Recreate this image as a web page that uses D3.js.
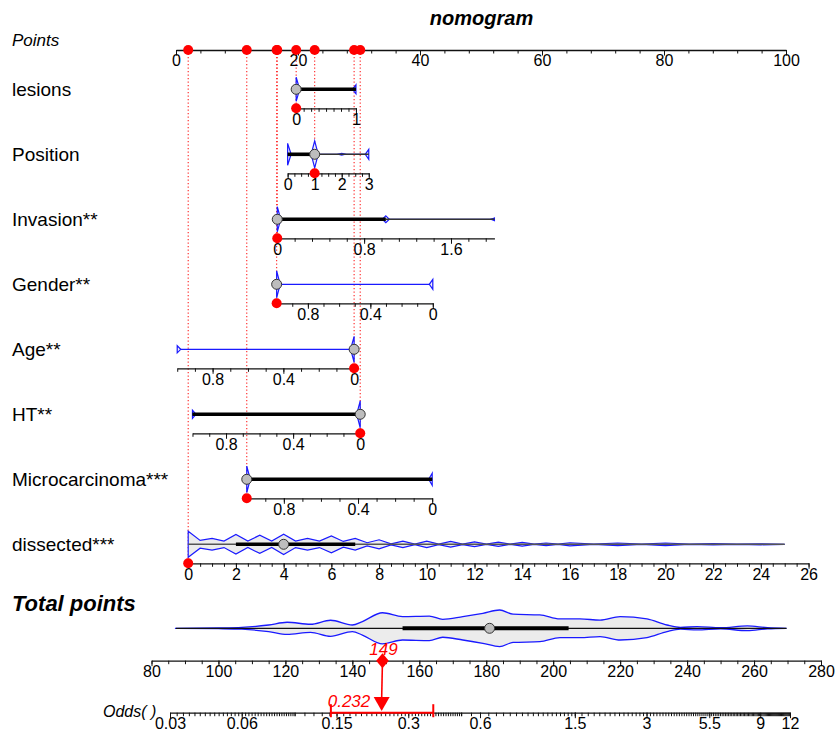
<!DOCTYPE html>
<html>
<head>
<meta charset="utf-8">
<script src="https://cdn.jsdelivr.net/npm/d3@7"></script>
<style>
  body { margin: 0; background: #fff; }
  svg { display: block; font-family: "Liberation Sans", Arial, sans-serif; }
</style>
</head>
<body>
<svg id="chart"></svg>
<script>
// ---- data ----
const varNames = ["lesions", "Position", "Invasion**", "Gender**", "Age**", "HT**", "Microcarcinoma***", "dissected***"];
const varDomains = [[0, 1], [0, 3], [0, 2], [1, 0], [1, 0], [1, 0], [1, 0], [0, 26]];
// points given at each end of the domain
const varPoints = [[19.7, 29.5], [18.3, 31.6], [16.6, 52.2], [16.5, 42.1], [0.2, 29.2], [2.7, 30.2], [11.6, 42.0], [2.0, 103.7]];
const varTickLabels = [
  [0, 1], [0, 1, 2, 3], [0, 0.8, 1.6], [0.8, 0.4, 0], [0.8, 0.4, 0], [0.8, 0.4, 0], [0.8, 0.4, 0],
  [0, 2, 4, 6, 8, 10, 12, 14, 16, 18, 20, 22, 24, 26]
];
const varTickSteps = [0.125, 0.25, 0.16, 0.1, 0.1, 0.1, 0.1, 0.5];
const varMedians = [0, 1, 0, 1, 0, 0, 1, 4];
const varBoxes = [[0, 1], [0, 1], [0, 1], null, null, [1, 0], [1, 0], [2, 7]];
const varWhiskers = [[0, 1], [1, 3], [1, 2], null, null, [1, 0], [1, 0], [0, 25]];
// relative frequency of each level (categorical rows)
const varLevels = [
  [[0, 0.89], [1, 0.33]],
  [[0, 0.81], [1, 1.0], [2, 0.07], [3, 0.37]],
  [[0, 0.93], [1, 0.25], [2, 0.1]],
  [[1, 1.0], [0, 0.37]],
  [[0, 0.96], [1, 0.26]],
  [[0, 1.0], [1, 0.3]],
  [[1, 0.98], [0, 0.45]],
  null
];
const patientValues = [0, 1, 0, 1, 0, 0, 1, 0];

const dissectedDensity = [
  [0, 1.0], [0.5, 0.3], [1, 0.45], [1.5, 0.25], [2, 0.75], [2.5, 0.25], [3, 0.7], [3.5, 0.25],
  [4, 0.78], [4.5, 0.25], [5, 0.45], [5.5, 0.25], [6, 0.65], [6.5, 0.22], [7, 0.45], [7.5, 0.12],
  [8, 0.35], [8.5, 0.04], [9, 0.25], [9.5, 0.02], [10, 0.25], [10.5, 0.02], [11, 0.22], [11.5, 0.02],
  [12, 0.18], [12.5, 0.01], [13, 0.16], [13.5, 0.01], [14, 0.14], [14.5, 0.01], [15, 0.1], [15.5, 0.01],
  [16, 0.12], [17, 0.01], [18, 0.1], [19, 0.01], [20, 0.1], [21, 0.01], [22, 0.05], [23, 0.01],
  [24, 0.04], [25, 0]
];

const totalDensity = [
  [87, 0], [100, 0.02], [107, 0.05], [115, 0.18], [120.5, 0.33], [127.5, 0.22], [133.5, 0.44],
  [140, 0.18], [143, 0.37], [149, 0.85], [155, 0.64], [163, 0.67], [167, 0.49], [173, 0.64],
  [179, 0.82], [184, 1.0], [188, 0.77], [196, 0.73], [202, 0.51], [208, 0.51], [214, 0.45],
  [220, 0.64], [228, 0.51], [234, 0.18], [238, 0.05], [243, 0.09], [250, 0.03], [258, 0.13],
  [264, 0.03], [269.7, 0]
];
const totalRange = [87.3, 269.7];
const totalBox = [155, 204.6];
const totalMedian = 181;
const totalPoints = 149;

const pointsTickLabels = [0, 20, 40, 60, 80, 100];
const totalTickLabels = [80, 100, 120, 140, 160, 180, 200, 220, 240, 260, 280];
const oddsTickLabels = [0.03, 0.06, 0.15, 0.3, 0.6, 1.5, 3, 5.5, 9, 12];
const oddsMinorSegments = [[0.03, 0.1, 0.002], [0.1, 0.5, 0.01], [0.5, 1.5, 0.05], [1.5, 12, 0.1]];
const predictedOdds = 0.232;
const oddsCI = [0.142, 0.382];

// ---- layout ----
const width = 837, height = 733;
const font = "'Liberation Sans', Arial, sans-serif";
const svg = d3.select("#chart").attr("width", width).attr("height", height);

const xPts = d3.scaleLinear().domain([0, 100]).range([176, 786]);
const yRow = d3.scalePoint().domain(varNames).range([89.3, 544.3]);
const axisGap = 19;
const pointsY = 50;
const xTot = d3.scaleLinear().domain([80, 280]).range([151.5, 821]);
const totalY = 628.3, totalAxisY = 660.7;
const xOdds = d3.scaleLog().domain([0.03, 12]).range([170, 790]);
const oddsY = 712.7;

const levelH = d3.scaleLinear().domain([0, 1]).range([0, 13.5]);
const dissH = d3.scaleLinear().domain([0, 1]).range([0, 13]);
const totH = d3.scaleLinear().domain([0, 1]).range([0, 18.3]);

const varScales = varDomains.map((dom, i) =>
  d3.scaleLinear().domain(dom).range(varPoints[i].map(xPts)));

function drawAxis(g, scale, y, minor, labels) {
  g.append("g")
    .attr("transform", `translate(0,${y})`)
    .call(d3.axisBottom(scale).tickValues(minor).tickSize(3.5).tickSizeOuter(0).tickFormat(""))
    .attr("color", "#111")
    .call(a => a.select(".domain").attr("stroke-width", 1.3));
  const major = g.append("g")
    .attr("transform", `translate(0,${y})`)
    .call(d3.axisBottom(scale).tickValues(labels).tickSize(5.5).tickSizeOuter(0).tickFormat(d => String(d)))
    .attr("color", "#111")
    .attr("font-size", 16)
    .attr("font-family", font);
  major.select(".domain").remove();
  major.selectAll("text").attr("y", 5).attr("dy", "0.71em").attr("fill", "#000");
}

// title and Points label
svg.append("text").attr("x", 481.5).attr("y", 25).attr("text-anchor", "middle")
  .attr("font-size", 20).attr("font-weight", "bold").attr("font-style", "italic").text("nomogram");
svg.append("text").attr("x", 12).attr("y", 46).attr("font-size", 17).attr("font-style", "italic").text("Points");

// dotted guide lines (behind everything)
const guides = svg.append("g");
varNames.forEach((name, i) => {
  const x = varScales[i](patientValues[i]);
  guides.append("line")
    .attr("x1", x).attr("x2", x)
    .attr("y1", pointsY).attr("y2", yRow(name) + axisGap)
    .attr("stroke", "#ff2020").attr("stroke-width", 1.1).attr("stroke-dasharray", "1.2,2.3");
});

// points axis
drawAxis(svg.append("g"), xPts, pointsY, d3.range(0, 100.01, 4), pointsTickLabels);

// rows
varNames.forEach((name, i) => {
  const g = svg.append("g");
  const y = yRow(name);
  const sx = varScales[i];
  const [r0, r1] = d3.extent(sx.range());

  g.append("text").attr("x", 12).attr("y", y + 7).attr("font-size", 19).text(name);

  if (varLevels[i]) {
    // collapsed violin outline
    g.append("line").attr("x1", r0).attr("x2", r1).attr("y1", y).attr("y2", y)
      .attr("stroke", "#1a1aff").attr("stroke-width", 1.3);
    const w = 3.5;
    g.selectAll(".lvl").data(varLevels[i]).join("path")
      .attr("d", d => {
        const x = sx(d[0]), h = levelH(d[1]);
        if (Math.abs(x - r0) < 0.5) return `M${x},${y - h}L${x + w},${y}L${x},${y + h}Z`;
        if (Math.abs(x - r1) < 0.5) return `M${x},${y - h}L${x - w},${y}L${x},${y + h}Z`;
        return `M${x},${y - h}L${x + w},${y}L${x},${y + h}L${x - w},${y}Z`;
      })
      .attr("fill", "#f2f2f2").attr("stroke", "#1a1aff").attr("stroke-width", 1.2);
  } else {
    const area = d3.area()
      .x(d => sx(d[0]))
      .y0(d => y + dissH(d[1]))
      .y1(d => y - dissH(d[1]));
    g.append("path").datum(dissectedDensity).attr("d", area)
      .attr("fill", "#ececec").attr("stroke", "#1a1aff").attr("stroke-width", 1.2);
  }

  if (varWhiskers[i]) {
    g.append("line").attr("x1", sx(varWhiskers[i][0])).attr("x2", sx(varWhiskers[i][1]))
      .attr("y1", y).attr("y2", y)
      .attr("stroke", i === 7 ? "#555" : "#333").attr("stroke-width", 1.4);
  }
  if (varBoxes[i]) {
    g.append("line").attr("x1", sx(varBoxes[i][0])).attr("x2", sx(varBoxes[i][1]))
      .attr("y1", y).attr("y2", y).attr("stroke", "#000").attr("stroke-width", 3.6);
  }
  g.append("circle").attr("cx", sx(varMedians[i])).attr("cy", y).attr("r", 5)
    .attr("fill", "#bdbdbd").attr("stroke", "#333").attr("stroke-width", 1);

  const dom = varDomains[i];
  const lo = Math.min(dom[0], dom[1]), hi = Math.max(dom[0], dom[1]);
  drawAxis(g, sx, y + axisGap, d3.range(lo, hi + 1e-6, varTickSteps[i]), varTickLabels[i]);

  // patient value
  g.append("circle").attr("cx", sx(patientValues[i])).attr("cy", y + axisGap).attr("r", 5)
    .attr("fill", "#ff0000");
});

// red dots on the points axis
svg.append("g").selectAll("circle")
  .data(varNames.map((n, i) => xPts.invert(varScales[i](patientValues[i]))))
  .join("circle")
  .attr("cx", d => xPts(d)).attr("cy", pointsY).attr("r", 5).attr("fill", "#ff0000");

// total points
svg.append("text").attr("x", 12).attr("y", 611).attr("font-size", 22)
  .attr("font-weight", "bold").attr("font-style", "italic").text("Total points");

const totArea = d3.area().curve(d3.curveMonotoneX)
  .x(d => xTot(d[0]))
  .y0(d => totalY + totH(d[1]))
  .y1(d => totalY - totH(d[1]));
svg.append("path").datum(totalDensity).attr("d", totArea)
  .attr("fill", "#ececec").attr("stroke", "#1a1aff").attr("stroke-width", 1.3);
svg.append("line").attr("x1", xTot(totalRange[0])).attr("x2", xTot(totalRange[1]))
  .attr("y1", totalY).attr("y2", totalY).attr("stroke", "#111").attr("stroke-width", 1.3);
svg.append("line").attr("x1", xTot(totalBox[0])).attr("x2", xTot(totalBox[1]))
  .attr("y1", totalY).attr("y2", totalY).attr("stroke", "#000").attr("stroke-width", 4);
svg.append("circle").attr("cx", xTot(totalMedian)).attr("cy", totalY).attr("r", 5)
  .attr("fill", "#bdbdbd").attr("stroke", "#333").attr("stroke-width", 1);

drawAxis(svg.append("g"), xTot, totalAxisY, d3.range(80, 280.01, 5), totalTickLabels);

// odds axis
svg.append("text").attr("x", 103).attr("y", 717).attr("font-size", 16)
  .attr("font-style", "italic").text("Odds(  )");
const oddsMinor = oddsMinorSegments.flatMap(s => d3.range(s[0], s[1] + 1e-9, s[2]));
drawAxis(svg.append("g"), xOdds, oddsY, oddsMinor, oddsTickLabels);

// prediction marks
const red = "#ff0000";
const tx = xTot(totalPoints);
const ox = xOdds(predictedOdds);
svg.append("line").attr("x1", tx).attr("x2", ox).attr("y1", totalAxisY).attr("y2", 698)
  .attr("stroke", red).attr("stroke-width", 1.6);
svg.append("path")
  .attr("d", `M${tx},${totalAxisY - 7.5}L${tx + 6.3},${totalAxisY}L${tx},${totalAxisY + 7.5}L${tx - 6.3},${totalAxisY}Z`)
  .attr("fill", red);
svg.append("text").attr("x", tx + 1).attr("y", 655).attr("text-anchor", "middle")
  .attr("font-size", 17).attr("font-style", "italic").attr("fill", red).text(totalPoints);

svg.append("path").attr("d", `M${ox - 8},697L${ox + 8},697L${ox},711Z`).attr("fill", red);
svg.append("line").attr("x1", xOdds(oddsCI[0])).attr("x2", xOdds(oddsCI[1]))
  .attr("y1", oddsY).attr("y2", oddsY).attr("stroke", red).attr("stroke-width", 2);
svg.selectAll(".ci").data(oddsCI).join("line")
  .attr("x1", d => xOdds(d)).attr("x2", d => xOdds(d))
  .attr("y1", oddsY - 8.5).attr("y2", oddsY + 4.5).attr("stroke", red).attr("stroke-width", 2);
svg.append("text").attr("x", 349).attr("y", 707).attr("text-anchor", "middle")
  .attr("font-size", 17).attr("font-style", "italic").attr("fill", red).text(predictedOdds);
</script>
</body>
</html>
